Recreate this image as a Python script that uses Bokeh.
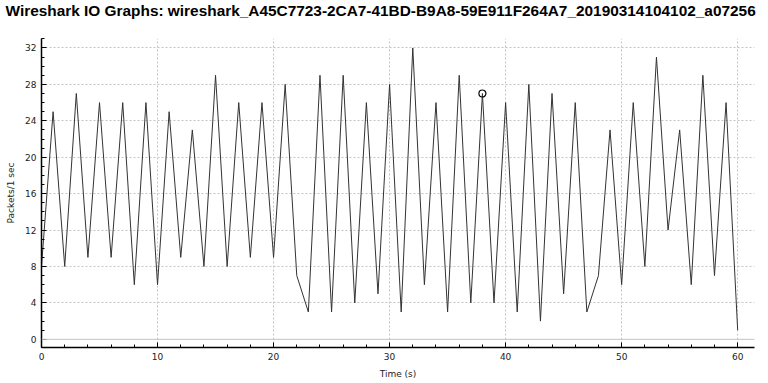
from bokeh.plotting import figure
from bokeh.models import SingleIntervalTicker, Span, Range1d, ColumnDataSource, Title
from bokeh.embed import file_html
from bokeh.resources import INLINE

title_text = "Wireshark IO Graphs: wireshark_A45C7723-2CA7-41BD-B9A8-59E911F264A7_20190314104102_a07256"
time_s = list(range(0, 61))
packets = [8, 25, 8, 27, 9, 26, 9, 26, 6, 26,
           6, 25, 9, 23, 8, 29, 8, 26, 9, 26,
           9, 28, 7, 3, 29, 3, 29, 4, 26, 5,
           28, 3, 32, 6, 26, 3, 29, 4, 27, 4,
           26, 3, 28, 2, 27, 5, 26, 3, 7, 23,
           6, 26, 8, 31, 12, 23, 6, 29, 7, 26,
           1]
marker_x = [38]
marker_y = [27]

FONT = "DejaVu Sans"

p = figure(width=768, height=383, output_backend="svg", toolbar_location=None,
           x_range=Range1d(0, 61.45), y_range=Range1d(-0.9, 33.04),
           min_border_left=41, min_border_right=14, min_border_top=20, min_border_bottom=36)
p.outline_line_color = None
p.background_fill_color = "white"

# main title (outermost)
p.title.text = title_text
p.title.text_font = "Liberation Sans"
p.title.text_font_size = "15.4px"
p.title.text_font_style = "bold"
p.title.text_color = "black"
p.title.align = "left"
p.title.offset = -36
p.title.vertical_align = "top"
p.title.standoff = 2

# spacer between the title and the frame
spacer = Title(text=" ", text_font_size="10px", standoff=4)
p.add_layout(spacer, "above")

p.xaxis.ticker = SingleIntervalTicker(interval=10, num_minor_ticks=5)
p.yaxis.ticker = SingleIntervalTicker(interval=4, num_minor_ticks=4)

for ax in (p.xaxis, p.yaxis):
    ax.axis_line_color = "black"
    ax.axis_line_width = 1.5
    ax.major_tick_in = 5
    ax.major_tick_out = 0
    ax.minor_tick_in = 3
    ax.minor_tick_out = 0
    ax.major_tick_line_color = "black"
    ax.minor_tick_line_color = "black"
    ax.major_label_text_font = FONT
    ax.major_label_text_font_size = "9px"
    ax.major_label_text_color = "#222222"
    ax.axis_label_text_font = FONT
    ax.axis_label_text_font_size = "9px"
    ax.axis_label_text_font_style = "normal"
    ax.axis_label_text_color = "#222222"

p.xaxis.axis_label = "Time (s)"
p.yaxis.axis_label = "Packets/1 sec"
p.xaxis.major_label_standoff = 5
p.yaxis.major_label_standoff = 5
p.xaxis.axis_label_standoff = 6
p.yaxis.axis_label_standoff = 6

for g in (p.xgrid, p.ygrid):
    g.grid_line_color = "#c4c4c4"
    g.grid_line_dash = "2 2"
    g.grid_line_width = 1

p.add_layout(Span(location=0, dimension="width", line_color="#c8c8c8", line_width=1))

src = ColumnDataSource(dict(t=time_s, v=packets))
p.line("t", "v", source=src, line_color="#333333", line_width=1)
p.scatter(marker_x, marker_y, marker="circle", size=7, fill_color=None,
          line_color="black", line_width=1.2)

open("out.html", "w").write(file_html(p, INLINE))
